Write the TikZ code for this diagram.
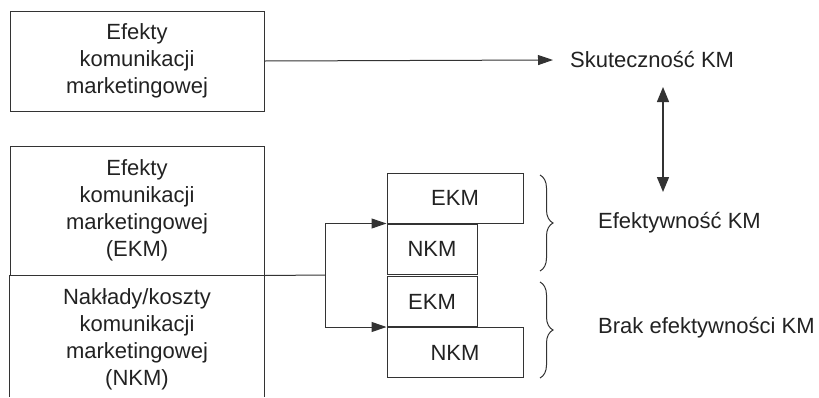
\documentclass[tikz,border=0pt]{standalone}
\usepackage{fontspec}
\setmainfont{Liberation Sans}
\usetikzlibrary{arrows.meta,decorations.pathreplacing}
\definecolor{ink}{HTML}{222222}
\definecolor{rule}{HTML}{333333}
\begin{document}
\begin{tikzpicture}[x=1pt,y=-1pt,
  every node/.style={text=ink,font=\fontsize{22}{27}\selectfont},
  bigbox/.style={draw=rule,line width=1pt,minimum width=254pt,align=center,inner sep=0pt},
  smallbox/.style={draw=rule,line width=1pt,minimum height=50pt,inner sep=0pt},
  label/.style={anchor=west,inner sep=0pt},
  conn/.style={draw=rule,line width=1pt},
  tip/.style={-{Triangle[length=15pt,width=10pt]}},
  brace/.style={draw=rule,line width=1pt,decorate,decoration={brace,amplitude=13pt,aspect=0.5}}]
\useasboundingbox (0,0) rectangle (819,397);

% upper block and its result
\node[bigbox,minimum height=100pt] (top) at (137,61) {Efekty\\komunikacji\\marketingowej};
\node[label] (sk) at (570,60) {Skuteczność KM};
\draw[conn,tip] (top.east) -- ([xshift=-17pt]sk.west);

% two-part block: effects over outlays
\node[bigbox,minimum height=129pt] (ekm) at (137,210.5) {Efekty\\komunikacji\\marketingowej\\(EKM)};
\node[inner sep=0pt,minimum width=254pt,minimum height=129pt,align=center] (nkm) at (137,339.5)
  {Nakłady/koszty\\komunikacji\\marketingowej\\(NKM)};
\draw[conn] (nkm.north west) -- (nkm.west |- 0,397);
\draw[conn] (nkm.north east) -- (nkm.east |- 0,397);

% comparison pairs
\node[smallbox,minimum width=136pt] (e1) at (455,198) {EKM};
\node[smallbox,minimum width=90pt,anchor=north west] (n1) at (e1.south west) {NKM};
\node[smallbox,minimum width=136pt] (n2) at (455,352.5) {NKM};
\node[smallbox,minimum width=90pt,anchor=south west] (e2) at (n2.north west) {EKM};

% splitting connector
\coordinate (hub) at (325,275);
\draw[conn] (ekm.south east) -- (hub);
\draw[conn,tip] (hub) |- (e1.south west);
\draw[conn,tip] (hub) |- (n2.north west);

% braces and conclusions
\coordinate (b1a) at (540,175);
\coordinate (b1b) at (540,271);
\coordinate (b2a) at (540,282);
\coordinate (b2b) at (540,378);
\draw[brace] (b1a) -- (b1b);
\draw[brace] (b2a) -- (b2b);
\node[label] (ef) at (598,223) {Efektywność KM};
\node[label] (bef) at (598,328) {Brak efektywności KM};

% relation between effectiveness and efficiency
\coordinate (da) at (663,87);
\coordinate (db) at (663,192);
\draw[draw=rule,line width=1.4pt,{Triangle[length=15pt,width=12pt]}-{Triangle[length=15pt,width=12pt]}] (da) -- (db);
\end{tikzpicture}
\end{document}
